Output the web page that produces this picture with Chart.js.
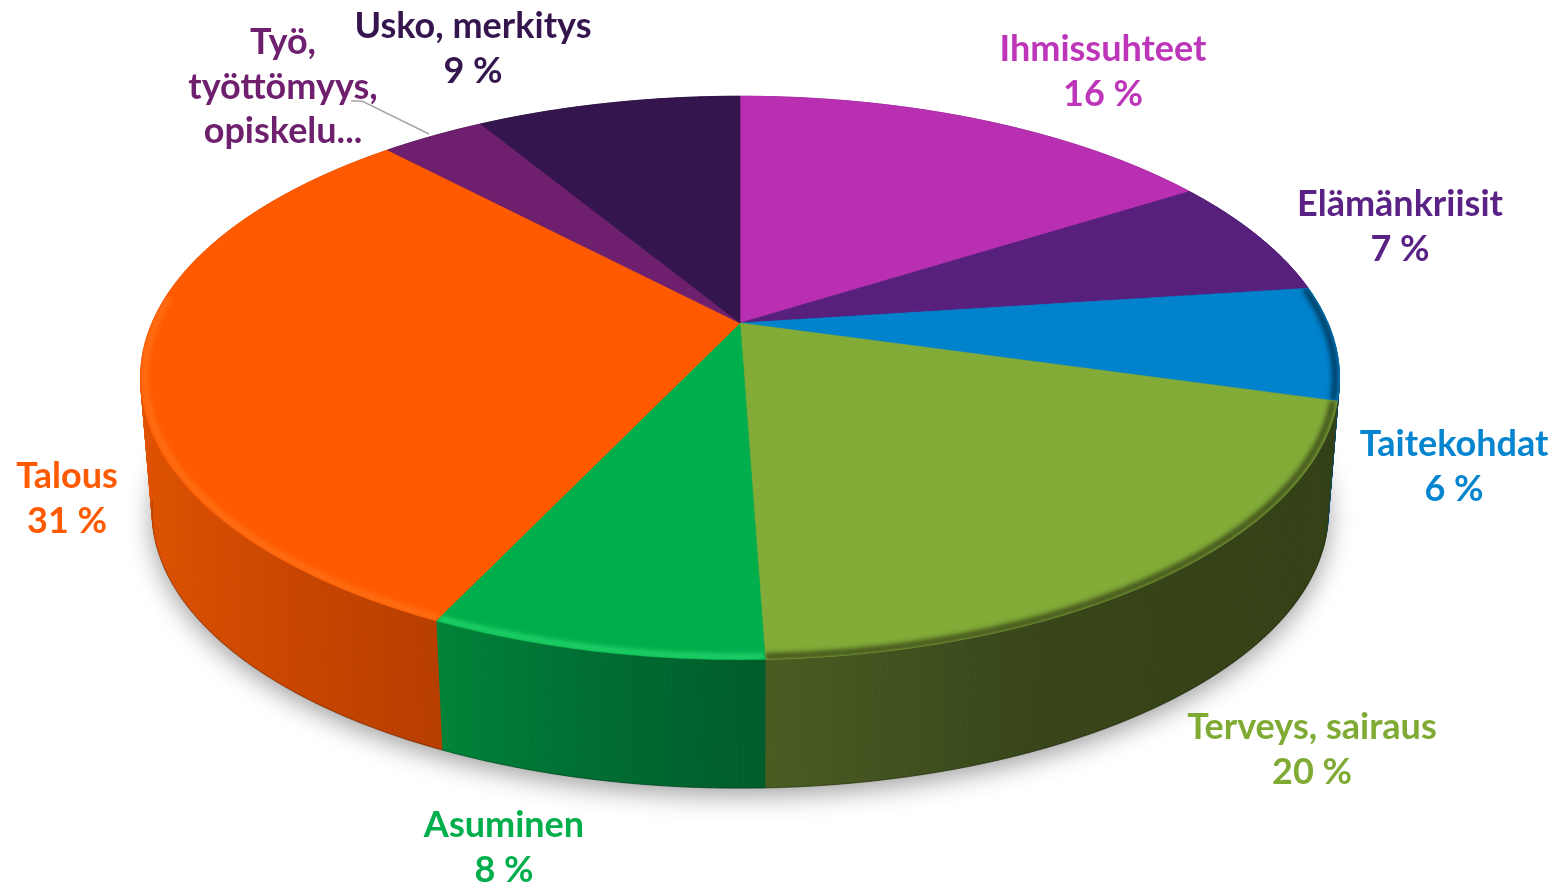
<!DOCTYPE html>
<html>
<head>
<meta charset="utf-8">
<style>
  html, body { margin: 0; padding: 0; background: #fff; }
  canvas { display: block; }
</style>
<script src="https://cdn.jsdelivr.net/npm/chart.js@4"></script>
</head>
<body>
<canvas id="pieChart" width="1565" height="885"></canvas>
<script>
// Chart data
const categories = [
  ['Ihmissuhteet'], ['Elämänkriisit'], ['Taitekohdat'], ['Terveys, sairaus'],
  ['Asuminen'], ['Talous'], ['Työ,', 'työttömyys,', 'opiskelu...'], ['Usko, merkitys']
];
const shares = [16, 6.9, 6.5, 20.05, 7.55, 31, 3.4, 8.6];
// The Työ label has no percentage in the source picture
const showShare = [true, true, true, true, true, true, false, true];
// The printed percentages are whole numbers
const printedShares = [16, 7, 6, 20, 8, 31, 3, 9];

// Colours
const topColors = ['#b92fb2', '#56207c', '#0082cd', '#82ab38', '#00ae4c', '#ff5a00', '#6e1f6e', '#34154e'];
const textColors = ['#bd35b8', '#5a2284', '#0585d0', '#7fab35', '#00ae4c', '#ff5a00', '#6e1f6e', '#34154e'];
// Wall gradient, left to right
const wallLeft = ['#7a1f76', '#3a1554', '#004a78', '#4a5c22', '#008438', '#e05200', '#4a154a', '#230e35'];
const wallMid = ['#7a1f76', '#3a1554', '#00466f', '#38461a', '#006e33', '#cc4700', '#4a154a', '#230e35'];
const wallRight = ['#7a1f76', '#3a1554', '#00426a', '#334015', '#005c2a', '#b83e00', '#4a154a', '#230e35'];
const rimColors = [null, null, '#003a5c', '#3e4c1a', '#22d468', '#ff7016', null, null];

// Label anchors: centre x, first baseline y
const labelX = [1103, 1400, 1454, 1312, 504, 67, 283, 473];
const labelY = [61, 216, 456, 739, 837, 488, 54, 38];
const LINE_HEIGHT = 44.5;

// Tilted disc projection
const CX = 740, CY = 323, RX = 588, RY = 271, PERSP = 0.195;
// Bottom rim is the top rim slightly shrunk and pushed down
const SHRINK = 0.981, SHRINK_X = 752, DROP = 141;
// No bevel past the left edge of the disc
const BEVEL_END = Math.PI * 1.03;

function topPoint(angle, r = 1) {
  const u = r * Math.cos(angle), v = r * Math.sin(angle);
  const w = 1 - PERSP * v;
  return [CX + RX * u / w, CY + RY * v / w];
}

function bottomPoint(angle) {
  const [x, y] = topPoint(angle);
  return [SHRINK_X + SHRINK * (x - SHRINK_X), SHRINK * y + DROP];
}

function rimPath(ctx, pointFn, start, end, move = true) {
  const steps = Math.max(2, Math.ceil(Math.abs(end - start) / 0.01));
  for (let i = 0; i <= steps; i++) {
    const [x, y] = pointFn(start + (end - start) * i / steps);
    if (i === 0 && move) ctx.moveTo(x, y); else ctx.lineTo(x, y);
  }
}

// Walls go quad by quad, a single polygon folds over itself at the disc edge
function drawWall(ctx, start, end, fill) {
  const steps = Math.max(2, Math.ceil((end - start) / 0.01));
  ctx.fillStyle = fill;
  ctx.strokeStyle = fill;
  ctx.lineWidth = 0.7;
  for (let i = 0; i < steps; i++) {
    const a = start + (end - start) * i / steps;
    const b = start + (end - start) * (i + 1) / steps;
    ctx.beginPath();
    ctx.moveTo(...topPoint(a));
    ctx.lineTo(...topPoint(b));
    ctx.lineTo(...bottomPoint(b));
    ctx.lineTo(...bottomPoint(a));
    ctx.closePath();
    ctx.fill();
    ctx.stroke();
  }
}

function xRange(start, end) {
  const xs = [];
  for (let a = start; a < end; a += 0.01) {
    // Only the front half of a slice shows
    if (Math.sin(a) >= -0.1) xs.push(topPoint(a)[0]);
  }
  return xs.length ? [Math.min(...xs), Math.max(...xs)] : [0, 1];
}

const pie3d = {
  id: 'pie3d',
  // Replace the flat arcs with the 3D disc, angles still come from the arc elements
  beforeDatasetDraw(chart) {
    const ctx = chart.ctx;
    const arcs = chart.getDatasetMeta(0).data;

    // Soft floor shadow
    ctx.save();
    ctx.shadowColor = 'rgba(0,0,0,0.38)';
    ctx.shadowBlur = 26;
    ctx.shadowOffsetY = 7;
    ctx.fillStyle = '#777';
    ctx.beginPath();
    rimPath(ctx, bottomPoint, 0, Math.PI * 2);
    ctx.closePath();
    ctx.fill();
    ctx.restore();

    // Side walls
    arcs.forEach((arc, i) => {
      const { startAngle, endAngle } = arc.getProps(['startAngle', 'endAngle']);
      const [x0, x1] = xRange(startAngle, endAngle);
      const grad = ctx.createLinearGradient(x0, 0, x1, 0);
      grad.addColorStop(0, wallLeft[i]);
      grad.addColorStop(0.45, wallMid[i]);
      grad.addColorStop(1, wallRight[i]);
      drawWall(ctx, startAngle, endAngle, grad);

      // Dark line along the lower edge, only where that edge is on the outline
      const lineStart = Math.max(startAngle, Math.PI * 0.05);
      const lineEnd = Math.min(endAngle, Math.PI * 0.95);
      if (lineEnd > lineStart) {
        ctx.strokeStyle = 'rgba(0,0,0,0.18)';
        ctx.lineWidth = 1.5;
        ctx.beginPath();
        rimPath(ctx, bottomPoint, lineStart, lineEnd);
        ctx.stroke();
      }
    });

    // Top face
    arcs.forEach((arc, i) => {
      const { startAngle, endAngle } = arc.getProps(['startAngle', 'endAngle']);
      ctx.beginPath();
      ctx.moveTo(CX, CY);
      rimPath(ctx, topPoint, startAngle, endAngle, false);
      ctx.closePath();
      ctx.fillStyle = topColors[i];
      ctx.strokeStyle = topColors[i];
      ctx.lineWidth = 0.6;
      ctx.fill();
      ctx.stroke();

      // Bevel along the front rim
      if (!rimColors[i]) return;
      ctx.save();
      ctx.clip();
      ctx.filter = 'blur(2.5px)';
      ctx.strokeStyle = rimColors[i];
      ctx.lineWidth = 6;
      ctx.beginPath();
      rimPath(ctx, a => topPoint(a, 0.993), startAngle, Math.min(endAngle, BEVEL_END));
      ctx.stroke();
      ctx.restore();
    });

    // Leader line for the Työ label
    ctx.strokeStyle = '#a6a6a6';
    ctx.lineWidth = 1.5;
    ctx.beginPath();
    ctx.moveTo(351, 101);
    ctx.lineTo(362, 101);
    ctx.lineTo(429, 134);
    ctx.stroke();

    return false;
  },

  afterDraw(chart) {
    const ctx = chart.ctx;
    ctx.save();
    ctx.font = 'bold 36px Lato';
    ctx.textAlign = 'center';
    ctx.textBaseline = 'alphabetic';
    chart.data.labels.forEach((lines, i) => {
      ctx.fillStyle = textColors[i];
      const rows = showShare[i] ? [...lines, `${printedShares[i]} %`] : lines;
      rows.forEach((row, r) => ctx.fillText(row, labelX[i], labelY[i] + r * LINE_HEIGHT));
    });
    ctx.restore();
  }
};

new Chart(document.getElementById('pieChart'), {
  type: 'pie',
  data: {
    labels: categories,
    datasets: [{ data: shares, backgroundColor: topColors, borderWidth: 0 }]
  },
  options: {
    responsive: false,
    animation: false,
    plugins: { legend: { display: false }, tooltip: { enabled: false } }
  },
  plugins: [pie3d]
});
</script>
</body>
</html>
